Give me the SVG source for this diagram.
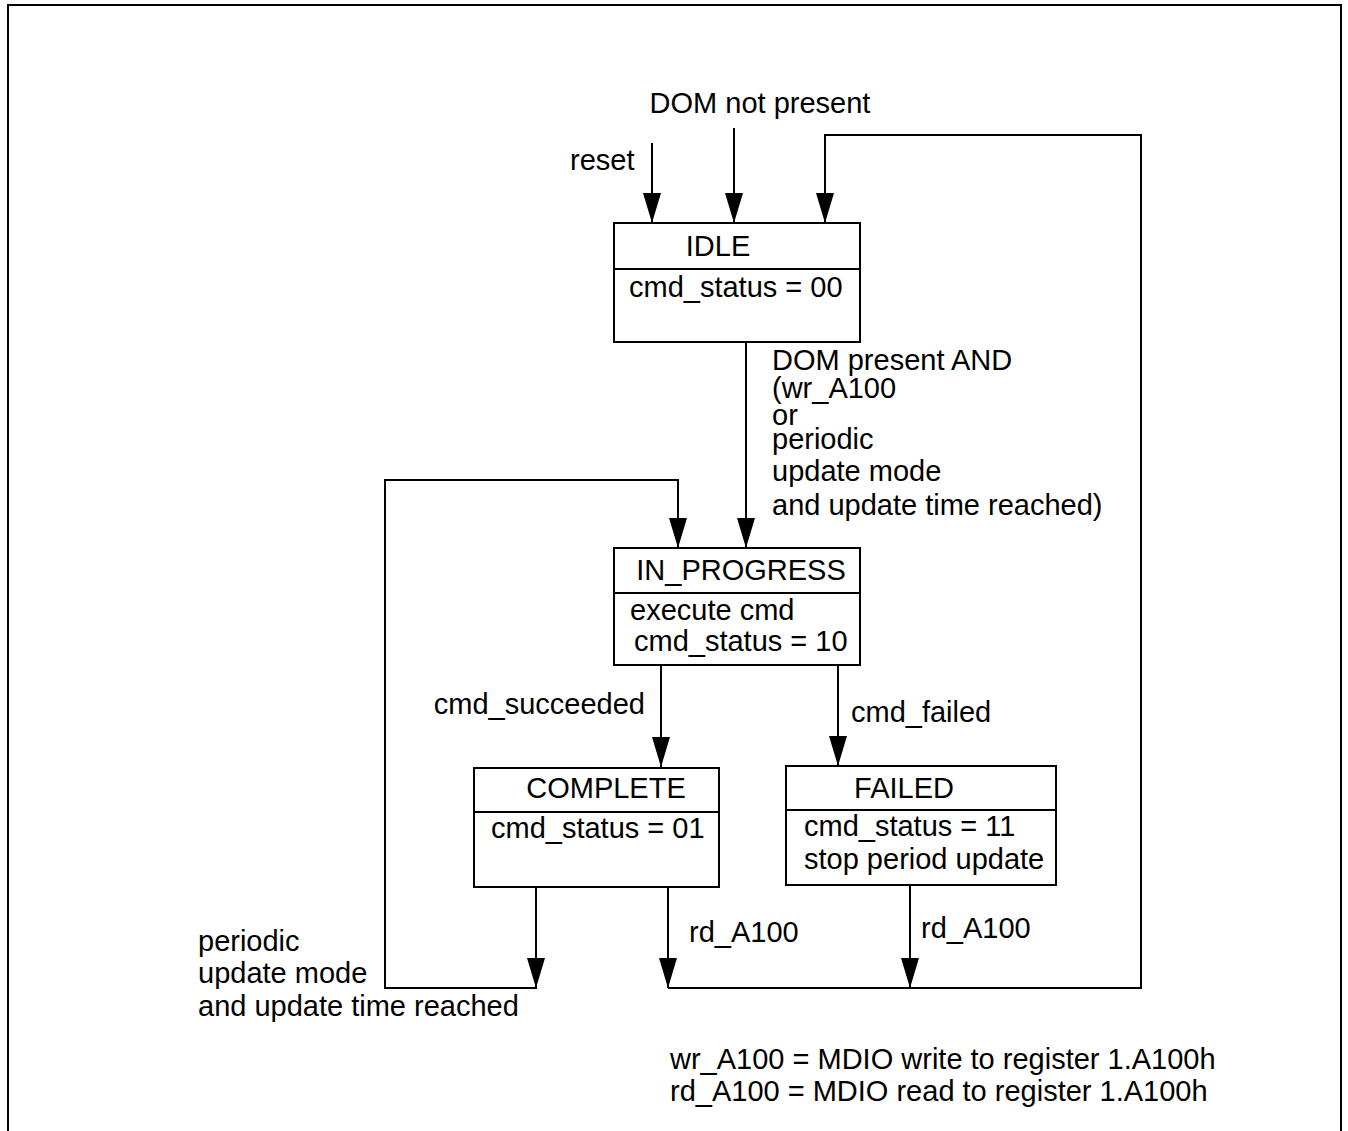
<svg xmlns="http://www.w3.org/2000/svg" width="1348" height="1131" viewBox="0 0 1348 1131">
<style>
text{font-family:"Liberation Sans",Arial,sans-serif;font-size:29px;fill:#000}
.box{fill:#fff;stroke:#000;stroke-width:2}
.ln{fill:none;stroke:#000;stroke-width:2}
.c{text-anchor:middle}
</style>
<defs>
<marker id="ah" markerUnits="userSpaceOnUse" markerWidth="30" markerHeight="18" refX="30" refY="9" orient="auto">
<path d="M0,0 L30,9 L0,18 z" fill="#000"/>
</marker>
</defs>
<rect width="1348" height="1131" fill="#fff"/>
<path class="ln" d="M8,1131 V5 H1341 V1131"/>
<g id="connectors">
<path class="ln" d="M652,143 V223" marker-end="url(#ah)"/>
<path class="ln" d="M734,128 V223" marker-end="url(#ah)"/>
<path class="ln" d="M668,988 H1141 V135 H825 V223" marker-end="url(#ah)"/>
<path class="ln" d="M746,342 V548" marker-end="url(#ah)"/>
<path class="ln" d="M536,887 V988 H385 V480 H678 V548" marker-end="url(#ah)"/>
<path class="ln" d="M661,665 V767" marker-end="url(#ah)"/>
<path class="ln" d="M838,665 V766" marker-end="url(#ah)"/>
<path class="ln" d="M668,887 V988" marker-end="url(#ah)"/>
<path class="ln" d="M910,885 V988" marker-end="url(#ah)"/>
<path class="ln" d="M536,958 V988" marker-end="url(#ah)"/>
</g>
<g id="labels">
<text x="760" y="113" class="c">DOM not present</text>
<text x="570" y="170">reset</text>
<text x="772" y="370">DOM present AND</text>
<text x="772" y="398">(wr_A100</text>
<text x="772" y="425">or</text>
<text x="772" y="449">periodic</text>
<text x="772" y="481">update mode</text>
<text x="772" y="515">and update time reached)</text>
<text x="645" y="714" text-anchor="end">cmd_succeeded</text>
<text x="851" y="722">cmd_failed</text>
<text x="689" y="942">rd_A100</text>
<text x="921" y="938">rd_A100</text>
<text x="198" y="951">periodic</text>
<text x="198" y="983">update mode</text>
<text x="198" y="1016">and update time reached</text>
<text x="670" y="1069">wr_A100 = MDIO write to register 1.A100h</text>
<text x="670" y="1101">rd_A100 = MDIO read to register 1.A100h</text>
</g>
<g id="idle">
<rect class="box" x="614" y="223" width="246" height="119"/>
<line class="ln" x1="614" y1="269" x2="860" y2="269"/>
<text x="718" y="256" class="c">IDLE</text>
<text x="629" y="297">cmd_status = 00</text>
</g>
<g id="in_progress">
<rect class="box" x="614" y="548" width="246" height="117"/>
<line class="ln" x1="614" y1="593" x2="860" y2="593"/>
<text x="741" y="580" class="c">IN_PROGRESS</text>
<text x="630" y="620">execute cmd</text>
<text x="634" y="651">cmd_status = 10</text>
</g>
<g id="complete">
<rect class="box" x="474" y="768" width="245" height="119"/>
<line class="ln" x1="474" y1="812" x2="719" y2="812"/>
<text x="606" y="798" class="c">COMPLETE</text>
<text x="491" y="838">cmd_status = 01</text>
</g>
<g id="failed">
<rect class="box" x="786" y="766" width="270" height="119"/>
<line class="ln" x1="786" y1="810" x2="1056" y2="810"/>
<text x="904" y="798" class="c">FAILED</text>
<text x="804" y="836">cmd_status = 11</text>
<text x="804" y="869">stop period update</text>
</g>
</svg>
